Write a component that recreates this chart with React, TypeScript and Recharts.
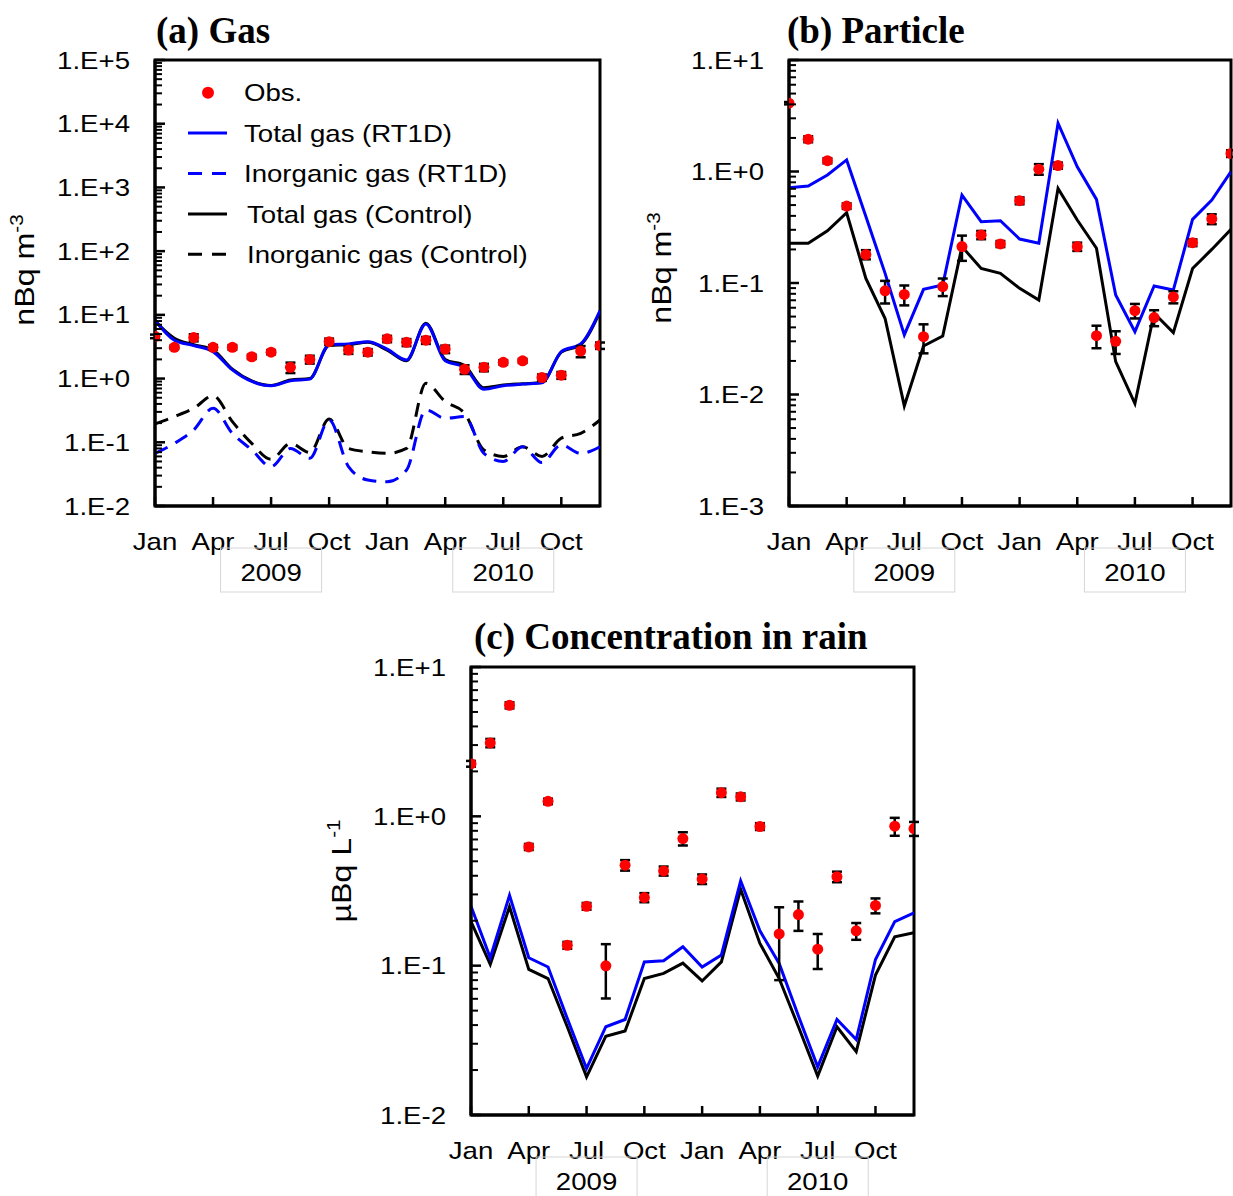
import React from "react";
import { ComposedChart, Line, Scatter, ErrorBar, XAxis, YAxis, ReferenceArea } from "recharts";

const SANS = '"Liberation Sans", Arial, sans-serif';
const SERIF = '"Liberation Serif", "Times New Roman", serif';
const STRETCH = 1.15; // the source's sans text is set a bit wide
const BLUE = "#0000ff";
const RED = "#ff0000";

const monthTicks = [0, 3, 6, 9, 12, 15, 18, 21];
const monthLabels = ["Jan", "Apr", "Jul", "Oct", "Jan", "Apr", "Jul", "Oct"];
const yearTicks = [6, 18];
const yearLabels = ["2009", "2010"];

// (a) gas, nBq m-3, Jan 2009 .. Dec 2010
const gasObs = [4.6, 3.1, 4.4, 3.1, 3.1, 2.2, 2.6, 1.5, 2.0, 3.8, 2.8, 2.6, 4.2, 3.7, 4.0, 2.9, 1.4, 1.5, 1.8, 1.9, 1.04, 1.13, 2.7, 3.3];
const gasObsErr = [0.3, 0.2, 0.56, 0.25, 0.25, 0.17, 0.2, 0.28, 0.28, 0.44, 0.36, 0.3, 0.48, 0.47, 0.5, 0.39, 0.22, 0.2, 0.14, 0.14, 0.12, 0.14, 0.54, 0.38];
const gasTotalRt1d = [8.3, 4.0, 3.3, 2.65, 1.37, 0.9, 0.77, 0.92, 0.98, 3.4, 3.5, 3.8, 2.9, 1.96, 7.2, 1.9, 1.5, 0.68, 0.77, 0.82, 0.86, 2.65, 3.5, 11.7];
const gasInorgRt1d = [0.067, 0.096, 0.156, 0.342, 0.138, 0.076, 0.0415, 0.08, 0.056, 0.224, 0.0415, 0.0256, 0.024, 0.0367, 0.322, 0.238, 0.253, 0.067, 0.05, 0.085, 0.048, 0.091, 0.067, 0.085];
const gasTotalCtrl = [8.0, 4.3, 3.4, 2.8, 1.4, 0.92, 0.78, 0.95, 1.0, 3.3, 3.4, 3.7, 2.8, 1.9, 7.4, 2.0, 1.6, 0.72, 0.79, 0.83, 0.87, 2.6, 3.4, 11.2];
const gasInorgCtrl = [0.194, 0.253, 0.342, 0.535, 0.211, 0.096, 0.054, 0.096, 0.069, 0.232, 0.08, 0.071, 0.067, 0.08, 0.845, 0.435, 0.285, 0.076, 0.06, 0.085, 0.06, 0.116, 0.138, 0.224];

// (b) particle, nBq m-3
const partObs = [4.1, 1.95, 1.25, 0.49, 0.18, 0.085, 0.079, 0.033, 0.093, 0.212, 0.27, 0.224, 0.547, 1.05, 1.13, 0.212, 0.0337, 0.03, 0.0565, 0.049, 0.075, 0.23, 0.375, 1.45];
const partObsErr = [0.1, 0.12, 0.066, 0.028, 0.017, 0.0195, 0.016, 0.0096, 0.0167, 0.054, 0.023, 0.014, 0.039, 0.114, 0.072, 0.018, 0.0077, 0.0069, 0.0084, 0.008, 0.0093, 0.016, 0.038, 0.1];
const partTotalRt1d = [0.716, 0.741, 0.93, 1.27, 0.394, 0.122, 0.0342, 0.0877, 0.096, 0.615, 0.355, 0.362, 0.248, 0.227, 2.71, 1.1, 0.562, 0.078, 0.0366, 0.094, 0.0865, 0.372, 0.554, 1.0];
const partTotalCtrl = [0.227, 0.227, 0.294, 0.427, 0.11, 0.048, 0.0079, 0.0272, 0.0335, 0.212, 0.135, 0.122, 0.0896, 0.0704, 0.706, 0.367, 0.205, 0.0197, 0.0083, 0.0535, 0.0359, 0.135, 0.2, 0.303];

// (c) concentration in rain, uBq L-1
const rainObs = [2.25, 3.1, 5.54, 0.624, 1.26, 0.137, 0.25, 0.0998, 0.471, 0.286, 0.431, 0.71, 0.38, 1.44, 1.35, 0.855, 0.163, 0.22, 0.129, 0.394, 0.171, 0.253, 0.859, 0.828];
const rainObsErr = [0.1, 0.2, 0.26, 0.029, 0.053, 0.0073, 0.013, 0.0395, 0.038, 0.02, 0.03, 0.072, 0.028, 0.092, 0.072, 0.045, 0.083, 0.049, 0.034, 0.032, 0.022, 0.029, 0.118, 0.089];
const rainTotalRt1d = [0.25, 0.113, 0.296, 0.113, 0.098, 0.0443, 0.0205, 0.039, 0.0436, 0.106, 0.108, 0.134, 0.098, 0.118, 0.37, 0.171, 0.1035, 0.046, 0.021, 0.0436, 0.032, 0.11, 0.197, 0.226];
const rainTotalCtrl = [0.197, 0.102, 0.248, 0.0944, 0.082, 0.039, 0.018, 0.0337, 0.0365, 0.082, 0.0887, 0.104, 0.079, 0.106, 0.325, 0.141, 0.082, 0.039, 0.0182, 0.039, 0.0266, 0.0865, 0.156, 0.166];

const gasLegend = [
  { label: "Obs.", color: RED, kind: "dot" },
  { label: "Total gas (RT1D)", color: BLUE, kind: "line" },
  { label: "Inorganic gas (RT1D)", color: BLUE, kind: "dash" },
  { label: "Total gas (Control)", color: "#000", kind: "line" },
  { label: "Inorganic gas (Control)", color: "#000", kind: "dash" },
];

const gasData = gasObs.map((v, i) => ({
  idx: i, obs: v, err: gasObsErr[i],
  totRt: gasTotalRt1d[i], inoRt: gasInorgRt1d[i], totCtl: gasTotalCtrl[i], inoCtl: gasInorgCtrl[i],
}));
const partData = partObs.map((v, i) => ({ idx: i, obs: v, err: partObsErr[i], totRt: partTotalRt1d[i], totCtl: partTotalCtrl[i] }));
const rainData = rainObs.map((v, i) => ({ idx: i, obs: v, err: rainObsErr[i], totRt: rainTotalRt1d[i], totCtl: rainTotalCtrl[i] }));

const DASH = "14 9";

// major + minor log ticks between 10^lo and 10^hi
function logTicks(lo: number, hi: number) {
  const out: number[] = [];
  for (let e = lo; e <= hi; e++) {
    for (let m = 1; m <= 9; m++) {
      if (e === hi && m > 1) break;
      out.push(Number((m * Math.pow(10, e)).toPrecision(6)));
    }
  }
  return out;
}

function isMajor(v: number) {
  const l = Math.log10(v);
  return Math.abs(l - Math.round(l)) < 1e-6;
}

function fmtExp(v: number) {
  const e = Math.round(Math.log10(v));
  return `1.E${e < 0 ? "-" : "+"}${Math.abs(e)}`;
}

function SText({ x, y, anchor, size, children }: any) {
  return (
    <g transform={`translate(${x},${y}) scale(${STRETCH},1)`}>
      <text x={0} y={0} textAnchor={anchor} fontSize={size} fontFamily={SANS} fill="#000">
        {children}
      </text>
    </g>
  );
}

const YTick = (props: any) => {
  const { x, y, payload } = props;
  const major = isMajor(payload.value);
  return (
    <g>
      <line x1={x} x2={x + (major ? 10 : 7)} y1={y} y2={y} stroke="#000" strokeWidth={major ? 2.5 : 2} />
      {major && (
        <SText x={x - 25} y={y + 8.6} anchor="end" size={24}>
          {fmtExp(payload.value)}
        </SText>
      )}
    </g>
  );
};

const XTick = (props: any) => {
  const { x, y, payload } = props;
  const label = monthLabels[monthTicks.indexOf(payload.value)];
  return (
    <g>
      <line x1={x} x2={x} y1={y} y2={y - 9} stroke="#000" strokeWidth={2.5} />
      <SText x={x} y={y + 43.6} anchor="middle" size={24}>
        {label}
      </SText>
    </g>
  );
};

const YearTick = (props: any) => {
  const { x, y, payload } = props;
  const label = yearLabels[yearTicks.indexOf(payload.value)];
  return (
    <g>
      <rect x={x - 50.5} y={y + 6} width={101} height={44} fill="none" stroke="#d6d6d6" strokeWidth={1} />
      <SText x={x} y={y + 38.6} anchor="middle" size={24}>
        {label}
      </SText>
    </g>
  );
};

const ObsDot = (props: any) => <circle cx={props.cx} cy={props.cy} r={5.5} fill={RED} />;

type Curve = { key: string; color: string; dash?: string };

function Panel(p: {
  left: number; top: number; width: number; height: number;
  marginTop: number; marginRight: number; yAxisWidth: number;
  data: any[]; exps: [number, number]; curves: Curve[]; lineType: "monotone" | "linear";
}) {
  const domain = [Math.pow(10, p.exps[0]), Math.pow(10, p.exps[1])];
  return (
    <div style={{ position: "absolute", left: p.left, top: p.top }}>
      <ComposedChart
        width={p.width}
        height={p.height}
        data={p.data}
        margin={{ top: p.marginTop, right: p.marginRight, left: 0, bottom: 0 }}
      >
        <XAxis
          type="number"
          dataKey="idx"
          domain={[0, 23]}
          ticks={monthTicks}
          interval={0}
          tick={(t: any) => <XTick {...t} />}
          tickLine={false}
          tickSize={0}
          tickMargin={0}
          height={36}
          axisLine={{ stroke: "#000", strokeWidth: 3 }}
          allowDataOverflow
        />
        <XAxis
          xAxisId="yr"
          type="number"
          dataKey="idx"
          domain={[0, 23]}
          ticks={yearTicks}
          interval={0}
          tick={(t: any) => <YearTick {...t} />}
          tickLine={false}
          tickSize={0}
          tickMargin={0}
          height={60}
          axisLine={false}
          allowDataOverflow
        />
        <YAxis
          scale="log"
          domain={domain}
          ticks={logTicks(p.exps[0], p.exps[1])}
          interval={0}
          tick={(t: any) => <YTick {...t} />}
          tickLine={false}
          tickSize={0}
          tickMargin={0}
          width={p.yAxisWidth}
          axisLine={{ stroke: "#000", strokeWidth: 3 }}
          allowDataOverflow
        />
        <ReferenceArea x1={0} x2={23} y1={domain[0]} y2={domain[1]} fill="none" stroke="#000" strokeWidth={3} />
        {p.curves.map((c) => (
          <Line
            key={c.key}
            type={p.lineType}
            dataKey={c.key}
            stroke={c.color}
            strokeWidth={3}
            strokeDasharray={c.dash}
            dot={false}
            activeDot={false}
            isAnimationActive={false}
          />
        ))}
        <Scatter dataKey="obs" fill={RED} shape={ObsDot} isAnimationActive={false}>
          <ErrorBar dataKey="err" direction="y" width={5} stroke="#000" strokeWidth={2.5} isAnimationActive={false} />
        </Scatter>
      </ComposedChart>
    </div>
  );
}

function Title({ left, top, text }: { left: number; top: number; text: string }) {
  return (
    <div style={{ position: "absolute", left, top, fontFamily: SERIF, fontWeight: "bold", fontSize: 37, lineHeight: 1, whiteSpace: "nowrap" }}>
      {text}
    </div>
  );
}

function YTitle({ cx, cy, text, sup }: { cx: number; cy: number; text: string; sup: string }) {
  return (
    <div
      style={{
        position: "absolute",
        left: cx,
        top: cy,
        transform: `translate(-50%,-50%) rotate(-90deg) scaleX(${STRETCH})`,
        fontFamily: SANS,
        fontSize: 28,
        lineHeight: 1,
        whiteSpace: "nowrap",
      }}
    >
      {text}
      <span style={{ position: "relative", top: -11, fontSize: 18 }}>{sup}</span>
    </div>
  );
}

function GasLegend() {
  return (
    <svg style={{ position: "absolute", left: 180, top: 70 }} width={380} height={210}>
      {gasLegend.map((it, i) => {
        const cy = 22.7 + 40.4 * i;
        return (
          <g key={it.label}>
            {it.kind === "dot" ? (
              <circle cx={28} cy={cy} r={6} fill={it.color} />
            ) : (
              <line x1={8} x2={47} y1={cy} y2={cy} stroke={it.color} strokeWidth={3} strokeDasharray={it.kind === "dash" ? "14 10" : undefined} />
            )}
            <SText x={i < 3 ? 64 : 67} y={cy + 8.6} anchor="start" size={24}>
              {it.label}
            </SText>
          </g>
        );
      })}
    </svg>
  );
}

export default function App() {
  return (
    <div style={{ position: "absolute", left: 0, top: 0, width: 1233, height: 1196, overflow: "hidden", background: "#fff" }}>
      <Panel
        left={0} top={0} width={620} height={602} marginTop={60} marginRight={20} yAxisWidth={155}
        data={gasData} exps={[-2, 5]} lineType="monotone"
        curves={[
          { key: "inoCtl", color: "#000", dash: DASH },
          { key: "inoRt", color: BLUE, dash: DASH },
          { key: "totCtl", color: "#000" },
          { key: "totRt", color: BLUE },
        ]}
      />
      <Panel
        left={620} top={0} width={613} height={602} marginTop={60} marginRight={2} yAxisWidth={169}
        data={partData} exps={[-3, 1]} lineType="linear"
        curves={[
          { key: "totCtl", color: "#000" },
          { key: "totRt", color: BLUE },
        ]}
      />
      <Panel
        left={300} top={600} width={640} height={611} marginTop={67} marginRight={26} yAxisWidth={171}
        data={rainData} exps={[-2, 1]} lineType="linear"
        curves={[
          { key: "totCtl", color: "#000" },
          { key: "totRt", color: BLUE },
        ]}
      />
      <GasLegend />
      <Title left={156} top={12} text="(a) Gas" />
      <Title left={787} top={12} text="(b) Particle" />
      <Title left={474} top={618} text="(c) Concentration in rain" />
      <YTitle cx={25} cy={270} text="nBq m" sup="-3" />
      <YTitle cx={662} cy={268} text="nBq m" sup="-3" />
      <YTitle cx={342} cy={871} text="µBq L" sup="-1" />
    </div>
  );
}
